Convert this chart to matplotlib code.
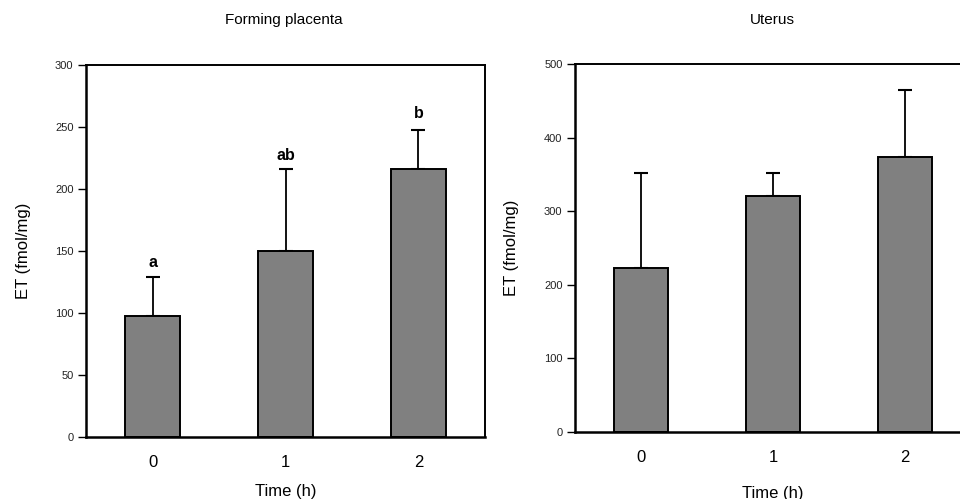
import matplotlib.pyplot as plt

# Data
times = ['0', '1', '2']
placenta_mean = [98, 150, 216]
placenta_err = [31, 66, 32]
placenta_letters = ['a', 'ab', 'b']
placenta_letter_y = [141, 227, 261]
uterus_mean = [223, 321, 373]
uterus_err = [129, 31, 91]

fig = plt.figure(figsize=(9.6, 4.99), dpi=100)
plt.rcParams['font.family'] = ['Arial', 'Liberation Sans', 'DejaVu Sans']

ax1 = fig.add_axes([0.0896, 0.1242, 0.4156, 0.7455])
ax2 = fig.add_axes([0.599, 0.1349, 0.4125, 0.7368])


def style_axis(ax, mean, err, ymax, step, ylpad, xlpad):
    x = range(len(times))
    ax.bar(x, mean, width=0.41, color='#808080', edgecolor='black', linewidth=1.4, zorder=2)
    ax.errorbar(x, mean, yerr=[[0] * len(err), err], fmt='none', ecolor='black',
                elinewidth=1.3, capsize=5, capthick=1.5, zorder=1)
    ax.set_xlim(-0.5, 2.5)
    ax.set_ylim(0, ymax)
    ax.set_yticks(range(0, ymax + 1, step))
    ax.set_xticks(list(x))
    ax.set_xticklabels(times)
    ax.tick_params(axis='x', length=0, pad=13, labelsize=12)
    ax.tick_params(axis='y', length=6, width=1, pad=3, labelsize=8, labelcolor='#222222')
    for s in ['left', 'bottom']:
        ax.spines[s].set_linewidth(1.8)
    for s in ['top', 'right']:
        ax.spines[s].set_linewidth(1.4)
    ax.set_xlabel('Time (h)', fontsize=12, labelpad=xlpad)
    ax.set_ylabel('ET (fmol/mg)', fontsize=12, labelpad=ylpad)


style_axis(ax1, placenta_mean, placenta_err, 300, 50, 17, 10)
style_axis(ax2, uterus_mean, uterus_err, 500, 100, 18, 15)

for i, letter in enumerate(placenta_letters):
    ax1.text(i, placenta_letter_y[i], letter, ha='center', va='center',
             fontsize=11.5, fontweight='bold')

fig.text(284 / 960, 1 - 20 / 499, 'Forming placenta', ha='center', va='center', fontsize=11)
fig.text(772 / 960, 1 - 20 / 499, 'Uterus', ha='center', va='center', fontsize=11)

fig.savefig('out.png', dpi=100)
